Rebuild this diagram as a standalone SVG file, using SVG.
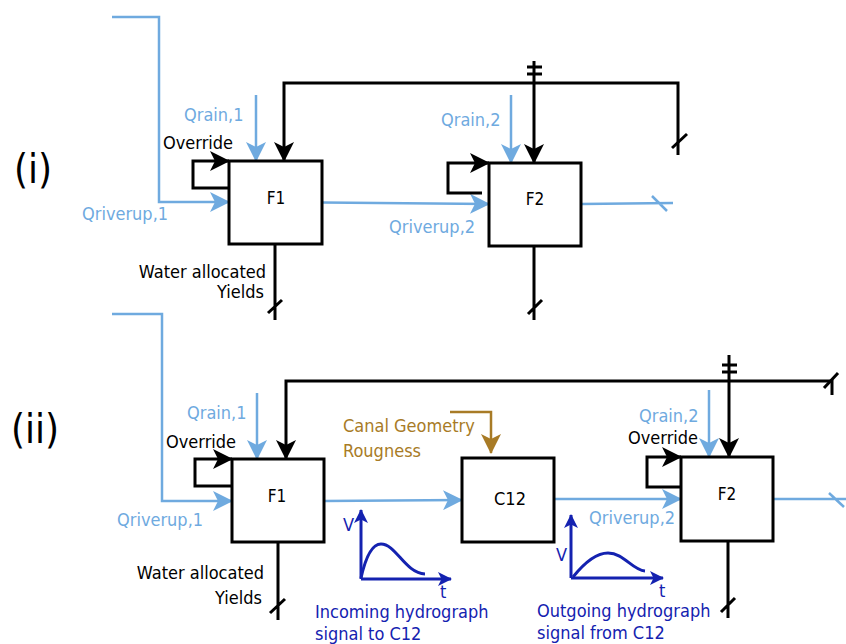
<svg xmlns="http://www.w3.org/2000/svg" width="846" height="644" viewBox="0 0 846 644">
<defs>
<style>
text{font-family:"DejaVu Sans Condensed","DejaVu Sans",sans-serif;font-size:18px}
.k{fill:#000}
.b{fill:#6FAADF}
.br{fill:#A87B26}
.db{fill:#1422B0}
.big{font-size:40px}
.box{font-size:17px;text-anchor:middle}
.r{text-anchor:end}
.bx{fill:#fff;stroke:#000;stroke-width:3}
.lk{fill:none;stroke:#000;stroke-width:3}
.lb{fill:none;stroke:#6FAADF;stroke-width:2.5}
.lbr{fill:none;stroke:#A87B26;stroke-width:2.5}
.ldb{fill:none;stroke:#1422B0;stroke-width:3}
.ak{marker-end:url(#mk)}
.ab{marker-end:url(#mb)}
.abr{marker-end:url(#mbr)}
.adb{marker-end:url(#mdb)}
</style>
<marker id="mk" viewBox="0 0 20 20" refX="19" refY="10" markerWidth="20" markerHeight="20" markerUnits="userSpaceOnUse" orient="auto"><path d="M0,0 L20,10 L0,20 L5,10 Z" fill="#000"/></marker>
<marker id="mb" viewBox="0 0 20 20" refX="19" refY="10" markerWidth="20" markerHeight="20" markerUnits="userSpaceOnUse" orient="auto"><path d="M0,0 L20,10 L0,20 L5,10 Z" fill="#6FAADF"/></marker>
<marker id="mbr" viewBox="0 0 20 20" refX="19" refY="10" markerWidth="20" markerHeight="20" markerUnits="userSpaceOnUse" orient="auto"><path d="M0,0 L20,10 L0,20 L5,10 Z" fill="#A87B26"/></marker>
<marker id="mdb" viewBox="0 0 14 14" refX="13" refY="7" markerWidth="14" markerHeight="14" markerUnits="userSpaceOnUse" orient="auto"><path d="M0,0 L14,7 L0,14 L3.5,7 Z" fill="#1422B0"/></marker>
</defs>

<text class="k big" x="14" y="183">(i)</text>
<text class="k big" x="11" y="443">(ii)</text>

<g id="connectors">
<!-- (i) -->
<path class="lb ab" d="M112,17 H159 V202 H229"/>
<path class="lk ak" d="M229,188 H193 V161 H229"/>
<path class="lb ab" d="M256,95 V161"/>
<path class="lk ak" d="M678,155 V83 H284 V161"/>
<path class="lk" d="M672,148 L687,134"/>
<path class="lk" d="M275,244 V320 M268,313 L282,300"/>
<path class="lb ab" d="M322,202.5 L489,204"/>
<path class="lk ak" d="M482,193 H448 V163 H489"/>
<path class="lb ab" d="M511,95 V163"/>
<path class="lk ak" d="M534,61 V163"/>
<path class="lk" d="M527,67 H542 M527,74 H542"/>
<path class="lb" d="M581,204 L673,203 M652,196 L667,211"/>
<path class="lk" d="M534,246 V320 M528,314 L542,300"/>
<!-- (ii) -->
<path class="lb ab" d="M112,314 H162 V501 H232"/>
<path class="lk ak" d="M232,486 H195 V459 H232"/>
<path class="lb ab" d="M257,393 V459"/>
<path class="lk ak" d="M832,395 V381 H286 V459"/>
<path class="lk" d="M824,388 L838,373"/>
<path class="lk" d="M278,542 V620 M270,613 L285,599"/>
<path class="lb ab" d="M324,501 L462,500"/>
<path class="lbr abr" d="M450,412 H491 V453"/>
<path class="lb ab" d="M554,499 H681"/>
<path class="lk ak" d="M681,487 H647 V457 H681"/>
<path class="lb ab" d="M709,390 V457"/>
<path class="lk ak" d="M729,355 V457"/>
<path class="lk" d="M722,365 H737 M722,372 H737"/>
<path class="lb" d="M773,499 H846 M829,493 L844,507"/>
<path class="lk" d="M728,541 V618 M721,612 L735,598"/>
</g>

<g id="node-F1-i">
<rect class="bx" x="229" y="161" width="93" height="83"/>
<text class="k box" x="276" y="204">F1</text>
</g>
<g id="node-F2-i">
<rect class="bx" x="489" y="163" width="92" height="83"/>
<text class="k box" x="535" y="205">F2</text>
</g>
<g id="node-F1-ii">
<rect class="bx" x="232" y="459" width="92" height="83"/>
<text class="k box" x="277" y="502">F1</text>
</g>
<g id="node-C12">
<rect class="bx" x="462" y="458" width="92" height="84"/>
<text class="k box" x="510" y="505" style="font-size:18px">C12</text>
</g>
<g id="node-F2-ii">
<rect class="bx" x="681" y="457" width="92" height="84"/>
<text class="k box" x="727" y="500">F2</text>
</g>

<g id="labels">
<text class="b" x="184" y="121">Qrain,1</text>
<text class="k" x="163" y="149">Override</text>
<text class="b" x="82" y="220">Qriverup,1</text>
<text class="k r" x="266" y="278">Water allocated</text>
<text class="k r" x="264" y="298">Yields</text>
<text class="b" x="441" y="126">Qrain,2</text>
<text class="b" x="389" y="233">Qriverup,2</text>

<text class="b" x="187" y="419">Qrain,1</text>
<text class="k" x="166" y="448">Override</text>
<text class="b" x="117" y="526">Qriverup,1</text>
<text class="k r" x="264" y="579">Water allocated</text>
<text class="k r" x="262" y="604">Yields</text>
<text class="br" x="343" y="432">Canal Geometry</text>
<text class="br" x="343" y="457">Rougness</text>
<text class="b" x="589" y="524">Qriverup,2</text>
<text class="b" x="639" y="422">Qrain,2</text>
<text class="k" x="628" y="444">Override</text>
</g>

<g id="hydrograph-in">
<path class="ldb adb" d="M361,579 V510"/>
<path class="ldb adb" d="M361,579 H451"/>
<path class="ldb" d="M361,578 C365,560 371,544 381,544 C396,544 405,573 425,574"/>
<text class="db" x="343" y="531">V</text>
<text class="db" x="440" y="598">t</text>
<text class="db" x="315" y="618">Incoming hydrograph</text>
<text class="db" x="315" y="640">signal to C12</text>
</g>
<g id="hydrograph-out">
<path class="ldb adb" d="M571,578 V515"/>
<path class="ldb adb" d="M571,578 H663"/>
<path class="ldb" d="M573,577 C585,562 597,553 608,553 C624,553 632,570 645,571"/>
<text class="db" x="556" y="561">V</text>
<text class="db" x="659" y="597">t</text>
<text class="db" x="537" y="617">Outgoing hydrograph</text>
<text class="db" x="537" y="639">signal from C12</text>
</g>
</svg>
